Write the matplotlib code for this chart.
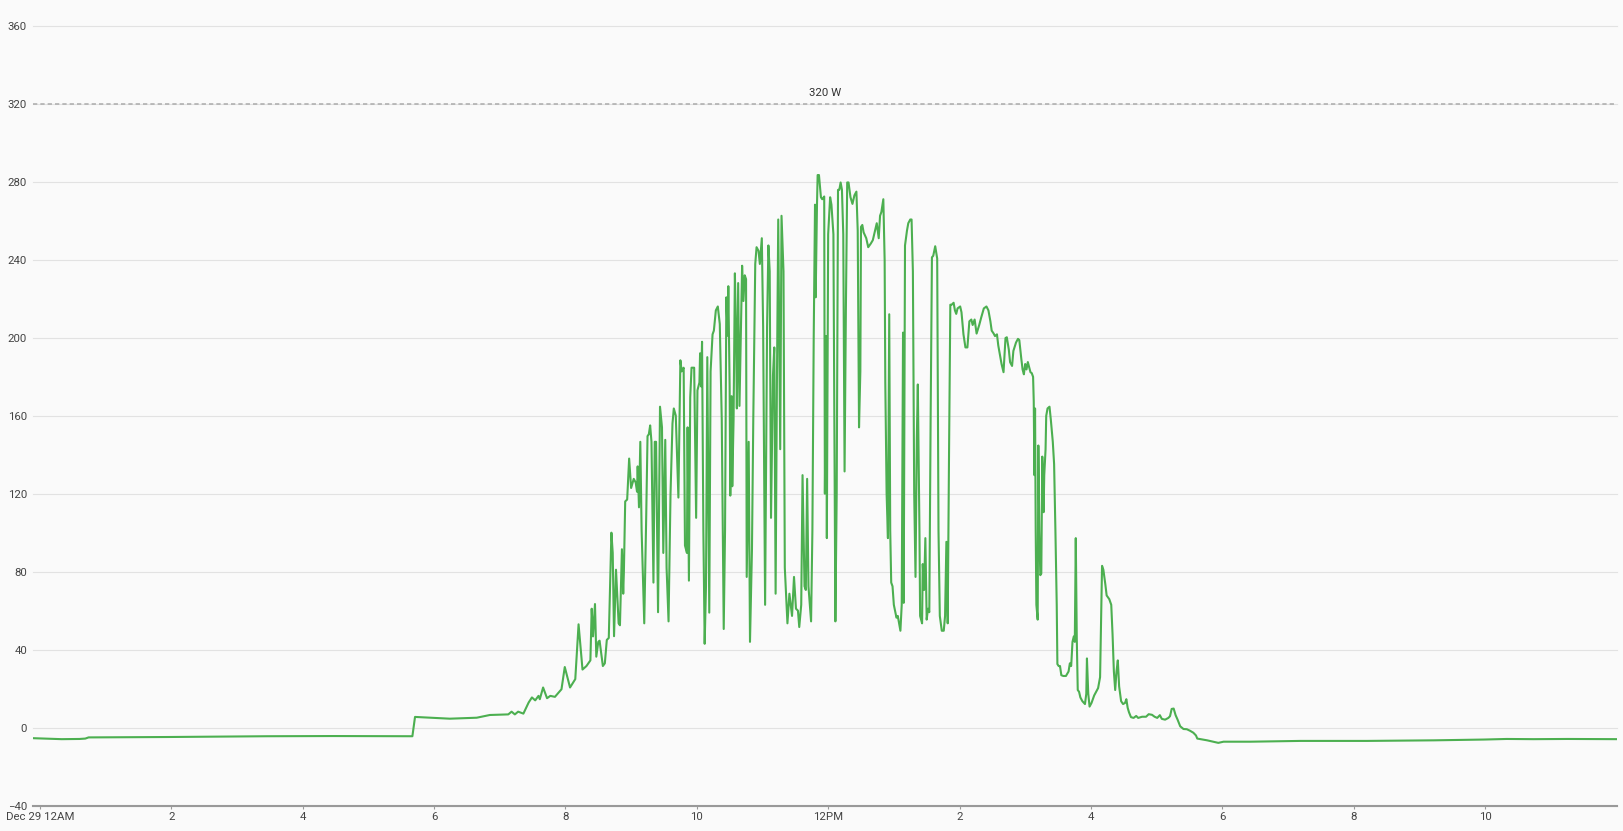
import numpy as np
import matplotlib.pyplot as plt

plt.rcParams['font.family'] = ['Roboto', 'DejaVu Sans']

# solar output in W, time in hours after Dec 29 12AM
t_night = [-0.107, 0.33, 0.60, 0.69, 0.74, 1.93, 3.45, 4.46, 5.67]
w_night = [-5.4, -5.9, -5.8, -5.6, -5.0, -4.8, -4.4, -4.3, -4.4]

t_dawn = [5.71, 6.24, 6.65, 6.85, 7.13, 7.18, 7.23, 7.28, 7.36, 7.44, 7.49, 7.54,
          7.59, 7.61, 7.66, 7.72, 7.77, 7.84, 7.94, 7.99, 8.07, 8.15, 8.20, 8.26,
          8.32, 8.38, 8.40, 8.42, 8.45, 8.47, 8.50, 8.52, 8.57, 8.60, 8.63, 8.66]
w_dawn = [5.5, 4.6, 5.1, 6.5, 6.8, 8.2, 6.8, 8.2, 7.2, 12.9, 15.5, 14.0,
          16.3, 14.6, 20.6, 15.1, 16.3, 15.8, 19.7, 31.1, 20.6, 24.9, 53.0, 29.8,
          31.6, 34.5, 61.0, 46.8, 63.4, 36.4, 44.0, 44.6, 31.6, 33.0, 45.0, 46.0]

t_morning = [8.70, 8.72, 8.74, 8.77, 8.81, 8.83, 8.86, 8.88, 8.89, 8.91, 8.94, 8.97,
             9.00, 9.04, 9.07, 9.09, 9.10, 9.12, 9.14, 9.16, 9.20, 9.23, 9.25, 9.27,
             9.29, 9.31, 9.34, 9.36, 9.38, 9.41, 9.44, 9.47, 9.49, 9.52, 9.54, 9.57,
             9.60, 9.63, 9.65, 9.68, 9.70, 9.72, 9.75, 9.77, 9.80, 9.82, 9.85, 9.86,
             9.88, 9.90, 9.92, 9.96, 9.99, 10.01, 10.04]
w_morning = [100.0, 89.6, 46.9, 81.0, 53.5, 52.5, 91.5, 68.7, 80.0, 116.0, 117.0, 138.0,
             122.9, 127.6, 125.7, 121.0, 134.0, 113.0, 146.6, 101.0, 53.5, 108.6, 149.5, 150.5,
             155.0, 146.6, 74.4, 146.6, 146.6, 59.2, 164.6, 154.0, 89.6, 147.6, 82.0, 54.5,
             120.0, 156.0, 163.7, 160.0, 139.0, 118.0, 188.4, 182.7, 184.6, 93.4, 89.6, 154.0,
             75.4, 169.4, 184.6, 184.6, 107.6, 173.0, 177.0]

t_late = [10.05, 10.065, 10.08, 10.10, 10.12, 10.14, 10.16, 10.19, 10.21, 10.24, 10.26, 10.29,
          10.32, 10.35, 10.38, 10.41, 10.43, 10.45, 10.47, 10.48, 10.50, 10.51, 10.53, 10.54,
          10.56, 10.58, 10.60, 10.61, 10.63, 10.65, 10.67, 10.69, 10.71, 10.73, 10.75, 10.76,
          10.79, 10.81, 10.84, 10.86, 10.89, 10.91, 10.94, 10.96, 10.99, 11.01, 11.04, 11.07,
          11.09, 11.11, 11.13, 11.16, 11.18, 11.20, 11.22, 11.24, 11.27, 11.29, 11.32, 11.34,
          11.38, 11.41, 11.45, 11.48, 11.51, 11.54, 11.56, 11.59, 11.61, 11.64, 11.66, 11.68,
          11.70, 11.74, 11.76, 11.78, 11.80, 11.81, 11.83, 11.84, 11.86, 11.89, 11.91, 11.94,
          11.95, 11.97, 11.98]
w_late = [192.0, 175.0, 197.9, 101.0, 43.0, 72.5, 190.0, 59.0, 182.7, 201.7, 203.6, 214.0,
          216.0, 207.0, 158.0, 50.6, 101.0, 220.7, 201.0, 226.4, 175.0, 119.0, 170.0, 123.8,
          158.0, 233.0, 196.0, 163.7, 228.0, 165.0, 199.8, 236.9, 218.8, 232.0, 230.0, 77.3,
          146.6, 44.0, 91.5, 158.0, 237.8, 246.4, 244.5, 237.8, 251.0, 205.5, 63.0, 205.5,
          247.3, 234.0, 107.6, 180.8, 195.0, 68.7, 177.0, 260.6, 142.8, 262.5, 234.0, 82.0,
          53.5, 68.7, 57.3, 77.3, 61.0, 60.0, 51.6, 63.0, 129.5, 72.5, 70.6, 127.6,
          72.5, 54.5, 101.0, 199.8, 268.2, 220.7, 268.2, 283.4, 283.4, 272.0, 271.0, 272.4,
          120.0, 200.8, 97.2]

t_noon = [12.00, 12.03, 12.05, 12.08, 12.11, 12.13, 12.15, 12.17, 12.19, 12.21, 12.23, 12.25,
          12.27, 12.29, 12.31, 12.34, 12.37, 12.40, 12.43, 12.45, 12.47, 12.49, 12.50, 12.52,
          12.54, 12.58, 12.61, 12.65, 12.68, 12.72, 12.74, 12.77, 12.79, 12.81, 12.84, 12.86,
          12.87, 12.89, 12.91, 12.93, 12.945, 12.96, 12.98, 13.00, 13.04, 13.06, 13.10, 13.12,
          13.14, 13.15, 13.17, 13.20, 13.22, 13.25, 13.27, 13.29, 13.31, 13.33, 13.35, 13.365,
          13.39, 13.40, 13.43, 13.44, 13.46, 13.48, 13.50, 13.52, 13.54, 13.56, 13.58, 13.60,
          13.63, 13.66, 13.68, 13.70, 13.73, 13.76, 13.78, 13.80, 13.82, 13.84]
w_noon = [253.0, 272.0, 268.2, 253.0, 54.5, 120.0, 275.8, 275.8, 279.6, 275.8, 253.0, 131.4,
          215.0, 279.6, 279.6, 272.0, 268.6, 273.0, 274.9, 254.9, 154.0, 182.7, 256.8, 257.8,
          254.0, 251.0, 246.4, 248.3, 250.0, 255.8, 258.7, 251.0, 262.5, 264.4, 271.0, 239.7,
          177.0, 120.0, 97.2, 212.0, 101.0, 74.4, 72.5, 63.0, 56.4, 57.3, 49.7, 63.0,
          202.6, 64.0, 247.3, 254.9, 258.7, 260.6, 260.6, 234.0, 120.0, 77.3, 148.5, 176.0,
          101.0, 57.3, 53.5, 83.9, 70.6, 97.2, 55.4, 61.0, 59.2, 158.0, 241.2, 242.0,
          246.9, 240.6, 101.0, 57.3, 49.7, 49.7, 57.3, 95.3, 53.5, 139.0]

t_afternoon = [13.86, 13.88, 13.91, 13.93, 13.95, 13.97, 14.01, 14.03, 14.06, 14.09, 14.12, 14.15,
               14.18, 14.20, 14.23, 14.26, 14.30, 14.33, 14.37, 14.41, 14.44, 14.47, 14.49, 14.52,
               14.54, 14.57, 14.59, 14.62, 14.64, 14.67, 14.70, 14.72, 14.75, 14.77, 14.80, 14.82,
               14.86, 14.89, 14.91, 14.94, 14.96, 14.98, 15.00, 15.02, 15.04, 15.08, 15.10, 15.12]
w_afternoon = [216.9, 216.9, 217.9, 214.0, 212.2, 215.0, 216.0, 213.0, 201.7, 195.0, 195.0, 208.4,
               209.3, 206.5, 209.3, 202.1, 206.5, 210.3, 215.0, 216.0, 214.0, 208.4, 203.6, 202.1,
               200.8, 201.7, 196.0, 190.3, 186.5, 182.3, 199.8, 200.2, 194.0, 187.4, 185.5, 193.2,
               197.5, 199.4, 198.8, 189.4, 183.7, 181.2, 186.5, 183.7, 187.5, 182.3, 181.8, 179.9]

t_dusk = [15.13, 15.14, 15.15, 15.16, 15.17, 15.19, 15.20, 15.215, 15.23, 15.245, 15.26, 15.28,
          15.29, 15.31, 15.32, 15.34, 15.37, 15.39, 15.42, 15.44, 15.46, 15.48, 15.49, 15.51,
          15.53, 15.55, 15.58, 15.62, 15.66, 15.68, 15.70, 15.72, 15.74, 15.755, 15.77, 15.785,
          15.80, 15.82, 15.84, 15.87, 15.91, 15.93, 15.94, 15.96, 15.98, 16.01, 16.05, 16.08,
          16.11, 16.14, 16.15, 16.17, 16.19, 16.22, 16.24, 16.28, 16.31, 16.33, 16.35, 16.37,
          16.39, 16.41, 16.43, 16.46, 16.49, 16.52, 16.54, 16.56, 16.58, 16.61, 16.65, 16.69,
          16.72, 16.78, 16.84, 16.88, 16.93, 16.97, 17.01, 17.05, 17.08, 17.13, 17.18, 17.205,
          17.23, 17.26, 17.29, 17.32, 17.36, 17.41, 17.46, 17.51, 17.56, 17.60, 17.62]
w_dusk = [167.5, 129.5, 163.7, 101.0, 63.0, 55.4, 144.7, 101.0, 78.2, 79.0, 139.0, 110.5,
          129.5, 142.8, 159.9, 163.7, 164.6, 158.0, 146.6, 135.2, 101.0, 63.0, 32.6, 31.6,
          31.6, 26.9, 26.5, 26.5, 28.8, 33.0, 31.6, 44.0, 46.8, 44.0, 97.2, 46.0,
          19.3, 18.4, 15.5, 13.6, 12.1, 17.4, 35.5, 17.4, 10.8, 12.7, 16.5, 18.4,
          20.3, 25.9, 44.0, 83.0, 81.0, 73.5, 67.8, 65.9, 63.0, 47.8, 28.8, 19.3,
          28.8, 34.5, 21.2, 13.6, 12.1, 12.7, 14.6, 10.2, 7.9, 5.4, 5.0, 6.0,
          5.0, 5.6, 5.6, 6.9, 6.6, 5.6, 5.0, 6.4, 4.5, 4.1, 5.0, 5.9,
          9.6, 9.8, 6.4, 4.1, 0.7, -0.7, -0.8, -1.6, -2.6, -4.0, -5.6]

t_evening = [17.77, 17.94, 18.02, 18.43, 19.19, 20.20, 21.22, 21.98, 22.33, 22.74, 23.25, 24.01]
w_evening = [-6.5, -7.8, -7.2, -7.2, -6.8, -6.8, -6.5, -6.1, -5.8, -5.9, -5.8, -5.9]

y_ticks = [-40, 0, 40, 80, 120, 160, 200, 240, 280, 320, 360]
x_ticks = [0, 2, 4, 6, 8, 10, 12, 14, 16, 18, 20, 22]
x_labels = ['Dec 29 12AM', '2', '4', '6', '8', '10', '12PM', '2', '4', '6', '8', '10']
limit_w = 320

hours = np.concatenate([t_night, t_dawn, t_morning, t_late, t_noon, t_afternoon, t_dusk, t_evening])
watts = np.concatenate([w_night, w_dawn, w_morning, w_late, w_noon, w_afternoon, w_dusk, w_evening])

bg = '#fafafa'
fig = plt.figure(figsize=(16.23, 8.31), dpi=100, facecolor=bg)
ax = fig.add_axes([0.0203, 0.0305, 0.9760, 0.9386])
ax.set_facecolor(bg)

ax.plot(hours, watts, color='#4caf50', lw=1.5, solid_joinstyle='round', zorder=3)

# limit line
ax.axhline(limit_w, color='#aaaaaa', lw=1.1, dashes=(2.8, 2.0), zorder=2)
ax.annotate(f'{limit_w} W', xy=(0.5, limit_w), xycoords=('axes fraction', 'data'),
            xytext=(0, 7.7), textcoords='offset points', ha='center', va='center',
            fontsize=8.2, color='#333333')

ax.set_xlim(-0.107, 24.01)
ax.set_ylim(-40, 360)
ax.set_yticks(y_ticks)
ax.set_xticks(x_ticks)
ax.set_xticklabels(x_labels)

ax.grid(axis='y', color='#e2e2e2', lw=0.8)
for gl in ax.get_ygridlines():
    gl.set_clip_on(False)
ax.set_axisbelow(True)

for side in ['top', 'right', 'left']:
    ax.spines[side].set_visible(False)
ax.spines['bottom'].set_color('#999999')
ax.spines['bottom'].set_linewidth(1.5)
ax.spines['bottom'].set_zorder(4)

ax.tick_params(axis='y', length=0, pad=4.3, labelsize=8.2, labelcolor='#444444')
ax.tick_params(axis='x', length=2.5, width=0.8, color='#999999', pad=2,
               labelsize=8.2, labelcolor='#444444')

fig.savefig('out.png', dpi=100, facecolor=bg)
